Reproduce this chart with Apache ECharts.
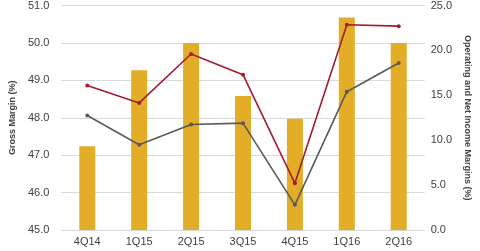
<!DOCTYPE html>
<html><head><meta charset="utf-8">
<script src="https://cdn.jsdelivr.net/npm/echarts@6/dist/echarts.min.js"></script>
<style>html,body{margin:0;padding:0;background:#fff}#c{width:480px;height:251px}</style>
</head><body><div id="c"></div>
<script>
const categories = ['4Q14','1Q15','2Q15','3Q15','4Q15','1Q16','2Q16'];
const grossMargin = [47.24, 49.27, 50.0, 48.58, 47.97, 50.68, 50.0];
const operatingMargin = [16.1, 14.15, 19.6, 17.3, 5.2, 22.85, 22.7];
const netIncomeMargin = [12.75, 9.5, 11.75, 11.9, 2.8, 15.4, 18.6];
const leftTicks = {min: 45, max: 51, interval: 1};
const rightTicks = {min: 0, max: 25, interval: 5};

const chart = echarts.init(document.getElementById('c'), null, {renderer: 'canvas'});
const font = 'Liberation Sans, Arial, sans-serif';
chart.setOption({
  animation: false,
  grid: {left: 52, right: 52, top: 5, bottom: 21},
  xAxis: {
    type: 'category', data: categories,
    axisLine: {show: true, lineStyle: {color: '#d9d9d9'}},
    axisTick: {show: false},
    axisLabel: {color: '#404040', fontSize: 11, fontFamily: font, margin: 6}
  },
  yAxis: [{
    type: 'value', min: leftTicks.min, max: leftTicks.max, interval: leftTicks.interval,
    name: 'Gross Margin (%)', nameLocation: 'middle', nameGap: 32, nameRotate: 90,
    nameTextStyle: {color: '#404040', fontSize: 9, fontWeight: 'bold', fontFamily: font},
    axisLine: {show: false}, axisTick: {show: false},
    axisLabel: {color: '#404040', fontSize: 11, fontFamily: font, formatter: v => v.toFixed(1), margin: 12},
    splitLine: {lineStyle: {color: '#d9d9d9'}}
  }, {
    type: 'value', min: rightTicks.min, max: rightTicks.max, interval: rightTicks.interval,
    name: 'Operating and Net Income Margins (%)', nameLocation: 'middle', nameGap: 35, nameRotate: -90,
    nameTextStyle: {color: '#404040', fontSize: 9, fontWeight: 'bold', fontFamily: font},
    axisLine: {show: false}, axisTick: {show: false},
    axisLabel: {color: '#404040', fontSize: 11, fontFamily: font, formatter: v => v.toFixed(1), margin: 6},
    splitLine: {show: false}
  }],
  series: [{
    type: 'bar', data: grossMargin, yAxisIndex: 0, barWidth: 16,
    itemStyle: {color: '#E3AD28'}
  }, {
    type: 'line', data: operatingMargin, yAxisIndex: 1,
    symbol: 'circle', symbolSize: 4,
    lineStyle: {color: '#A11D2B', width: 1.6}, itemStyle: {color: '#A11D2B'}
  }, {
    type: 'line', data: netIncomeMargin, yAxisIndex: 1,
    symbol: 'circle', symbolSize: 4,
    lineStyle: {color: '#5a5a5a', width: 1.6}, itemStyle: {color: '#5a5a5a'}
  }]
});
</script></body></html>
